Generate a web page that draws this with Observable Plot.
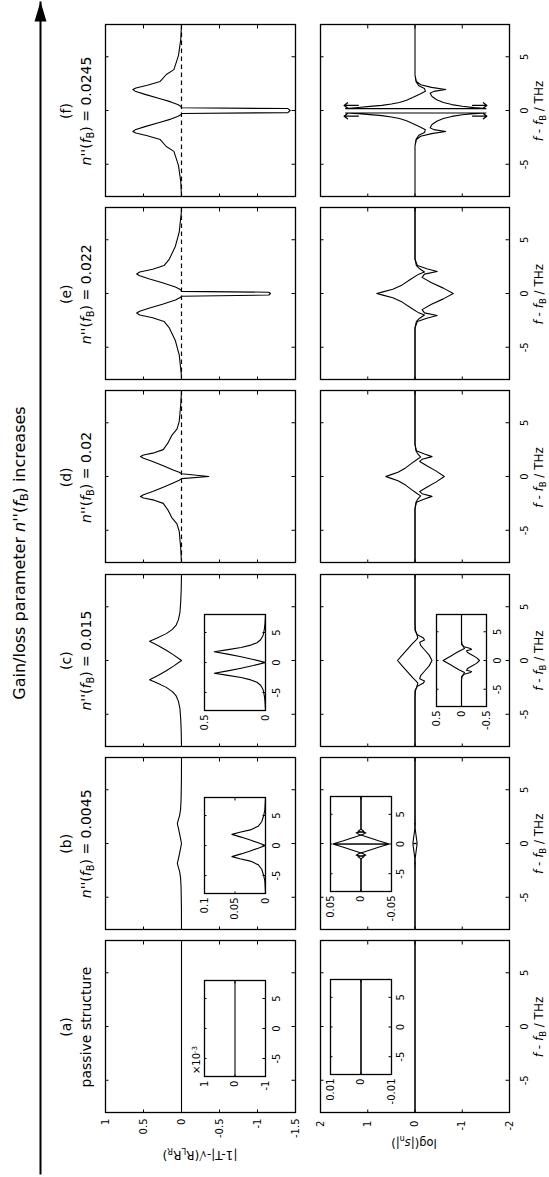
<!DOCTYPE html>
<html><head><meta charset="utf-8">
<script src="https://cdn.jsdelivr.net/npm/d3@7"></script>
<script src="https://cdn.jsdelivr.net/npm/@observablehq/plot@0.6"></script>
<style>
html,body{margin:0;padding:0;background:#fff;}
body{width:549px;height:1177px;overflow:hidden;position:relative;font-family:"DejaVu Sans",sans-serif;color:#000;}
#fig{position:absolute;left:0;top:0;width:1177px;height:549px;transform-origin:0 0;transform:translate(0px,1177px) rotate(-90deg);}
.lab{position:absolute;white-space:nowrap;transform:translate(-50%,-50%);line-height:1;}
sub{font-size:0.7em;vertical-align:-0.3em;line-height:0;}
sup{font-size:0.7em;vertical-align:0.5em;line-height:0;}
</style></head><body><div id="fig"></div>
<script>
// ---------- data ----------
const fDomain = [-8, 8];
const xTickVals = [-5, 0, 5];
const topTicks = [1, 0.5, 0, -0.5, -1, -1.5];
const botTicks = [2, 1, 0, -1, -2];
const panelLetters = ["(a)", "(b)", "(c)", "(d)", "(e)", "(f)"];
const panelParams = ["passive structure", "0.0045", "0.015", "0.02", "0.022", "0.0245"];
const insetTopA_ticks = [1, 0, -1];          // x 10^-3
const insetTopB_ticks = [0.1, 0.05, 0];
const insetTopC_ticks = [0.5, 0];
const insetBotA_ticks = [0.01, 0, -0.01];
const insetBotB_ticks = [0.05, 0, -0.05];
const insetBotC_ticks = [0.5, 0, -0.5];

// top row: |1-T| - sqrt(RL RR)
const topA = [[-8, 0], [8, 0]];
const topB = [[-8,0],[-6,0.001],[-5,0.003],[-4,0.006],[-3.2,0.012],[-2.6,0.025],[-2.2,0.042],[-1.85,0.055],[-1.4,0.04],[-0.9,0.025],[-0.45,0.012],[0,0],[0.45,0.012],[0.9,0.025],[1.4,0.04],[1.85,0.055],[2.2,0.042],[2.6,0.025],[3.2,0.012],[4,0.006],[5,0.003],[6,0.001],[8,0]];
const topC = [[-8,0],[-6.5,0.004],[-5.5,0.01],[-4.5,0.02],[-3.8,0.04],[-3.3,0.07],[-2.9,0.12],[-2.5,0.2],[-2.1,0.32],[-1.8,0.42],[-1.4,0.31],[-0.95,0.2],[-0.5,0.1],[0,0],[0.5,0.1],[0.95,0.2],[1.4,0.31],[1.8,0.42],[2.1,0.32],[2.5,0.2],[2.9,0.12],[3.3,0.07],[3.8,0.04],[4.5,0.02],[5.5,0.01],[6.5,0.004],[8,0]];
const topD = [[-8,0],[-6.7,0.01],[-5.1,0.03],[-4.4,0.06],[-3.8,0.13],[-3.1,0.18],[-2.5,0.24],[-2.2,0.36],[-2.0,0.5],[-1.86,0.54],[-1.7,0.5],[-1.4,0.38],[-1.0,0.24],[-0.6,0.11],[-0.35,0.03],[-0.2,0],[0,-0.36],[0.25,0],[0.4,0.03],[0.6,0.11],[1.0,0.24],[1.4,0.38],[1.7,0.5],[1.86,0.54],[2.0,0.5],[2.2,0.36],[2.5,0.24],[3.1,0.18],[3.8,0.13],[4.4,0.06],[5.1,0.03],[6.7,0.01],[8,0]];
const topE = [[-8,0],[-7.5,0.003],[-5.7,0.03],[-4.4,0.08],[-3.2,0.16],[-2.6,0.23],[-2.25,0.38],[-2.0,0.55],[-1.82,0.59],[-1.65,0.55],[-1.35,0.42],[-1.0,0.25],[-0.6,0.08],[-0.35,0.01],[-0.26,0],[-0.14,-1.15],[0,-1.17],[0.12,-1.15],[0.2,0],[0.35,0.01],[0.6,0.08],[1.0,0.25],[1.35,0.42],[1.65,0.55],[1.82,0.59],[2.0,0.55],[2.25,0.38],[2.6,0.23],[3.2,0.16],[4.4,0.08],[5.7,0.03],[7.5,0.003],[8,0]];
const topF = [[-8,0],[-6.6,0.01],[-5.1,0.04],[-3.8,0.1],[-3.35,0.2],[-2.7,0.28],[-2.35,0.45],[-2.1,0.6],[-1.95,0.64],[-1.8,0.61],[-1.5,0.48],[-1.1,0.28],[-0.8,0.14],[-0.55,0.05],[-0.4,0.01],[-0.28,0],[-0.2,-1.4],[0,-1.43],[0.18,-1.4],[0.25,0],[0.4,0.01],[0.55,0.05],[0.8,0.14],[1.1,0.28],[1.5,0.48],[1.8,0.61],[1.95,0.64],[2.1,0.6],[2.35,0.45],[2.7,0.28],[3.35,0.2],[3.8,0.1],[5.1,0.04],[6.6,0.01],[8,0]];

// bottom row: log(|s_n|), two branches per panel
const botA1 = [[-8, 0], [8, 0]];
const botA2 = [[-8, 0], [8, 0]];
const botB1 = [[-8,0],[-2.5,0],[-2.1,0.005],[-1.9,-0.008],[-1.6,-0.003],[-1,0.015],[-0.5,0.03],[-0.05,0.045],[0.05,-0.045],[0.5,-0.03],[1,-0.015],[1.6,0.003],[1.9,0.008],[2.1,-0.005],[2.5,0],[8,0]];
const botB2 = [[-8,0],[-2.5,0],[-2.1,-0.005],[-1.9,0.008],[-1.6,0.003],[-1,-0.015],[-0.5,-0.03],[-0.05,-0.045],[0.05,0.045],[0.5,0.03],[1,0.015],[1.6,-0.003],[1.9,-0.008],[2.1,0.005],[2.5,0],[8,0]];
const botC1 = [[-8,0],[-3.5,0],[-2.8,-0.01],[-2.4,-0.04],[-2.1,-0.06],[-1.9,-0.02],[-1.6,0.05],[-1.2,0.13],[-0.8,0.21],[-0.4,0.29],[0,0.37],[0.4,0.29],[0.8,0.21],[1.2,0.13],[1.6,0.05],[1.9,-0.02],[2.1,-0.06],[2.4,-0.04],[2.8,-0.01],[3.5,0],[8,0]];
const botC2 = [[-8,0],[-3.5,0],[-2.8,0],[-2.4,-0.05],[-2.1,-0.18],[-1.9,-0.2],[-1.7,-0.1],[-1.4,-0.12],[-1,-0.2],[-0.5,-0.3],[0,-0.36],[0.5,-0.3],[1,-0.2],[1.4,-0.12],[1.7,-0.1],[1.9,-0.2],[2.1,-0.18],[2.4,-0.05],[2.8,0],[3.5,0],[8,0]];
const botD1 = [[-8,0],[-3,0],[-2.4,-0.02],[-2.1,-0.06],[-1.8,-0.12],[-1.6,-0.05],[-1.2,0.08],[-0.8,0.2],[-0.4,0.36],[-0.15,0.52],[0,0.62],[0.15,0.52],[0.4,0.36],[0.8,0.2],[1.2,0.08],[1.6,-0.05],[1.8,-0.12],[2.1,-0.06],[2.4,-0.02],[3,0],[8,0]];
const botD2 = [[-8,0],[-3,0],[-2.4,-0.03],[-2.1,-0.2],[-1.85,-0.36],[-1.6,-0.15],[-1.4,-0.1],[-1,-0.25],[-0.5,-0.45],[0,-0.62],[0.5,-0.45],[1,-0.25],[1.4,-0.1],[1.6,-0.15],[1.85,-0.36],[2.1,-0.2],[2.4,-0.03],[3,0],[8,0]];
const botE1 = [[-8,0],[-3.2,0],[-2.6,-0.03],[-2.3,-0.1],[-2.0,-0.2],[-1.8,-0.08],[-1.3,0.1],[-0.8,0.27],[-0.4,0.47],[-0.15,0.68],[0,0.81],[0.15,0.68],[0.4,0.47],[0.8,0.27],[1.3,0.1],[1.8,-0.08],[2.0,-0.2],[2.3,-0.1],[2.6,-0.03],[3.2,0],[8,0]];
const botE2 = [[-8,0],[-3.2,0],[-2.6,-0.05],[-2.3,-0.25],[-2.05,-0.47],[-1.8,-0.2],[-1.5,-0.15],[-1,-0.35],[-0.5,-0.6],[0,-0.81],[0.5,-0.6],[1,-0.35],[1.5,-0.15],[1.8,-0.2],[2.05,-0.47],[2.3,-0.25],[2.6,-0.05],[3.2,0],[8,0]];
// panel (f): left and right halves of the two branches, which run off the axis near f = 0
const botF1 = [[-8,0],[-3.3,0],[-2.7,-0.02],[-2.3,-0.08],[-2.05,-0.2],[-1.8,-0.22],[-1.55,-0.12],[-1.2,0.05],[-0.95,0.18],[-0.75,0.33],[-0.6,0.5],[-0.48,0.7],[-0.38,0.95],[-0.3,1.2],[-0.23,1.47],[-0.23,-1.5],[-0.3,-1.25],[-0.4,-1.0],[-0.55,-0.78],[-0.75,-0.6],[-1.0,-0.46],[-1.3,-0.36],[-1.6,-0.32],[-1.78,-0.4],[-1.95,-0.65],[-2.15,-0.35],[-2.4,-0.12],[-2.7,-0.03],[-3.3,0]];
const botF2 = [[8,0],[3.3,0],[2.7,-0.02],[2.3,-0.08],[2.05,-0.2],[1.8,-0.22],[1.55,-0.12],[1.2,0.05],[0.95,0.18],[0.75,0.33],[0.6,0.5],[0.48,0.7],[0.38,0.95],[0.28,1.2],[0.17,1.47],[0.17,-1.5],[0.27,-1.25],[0.4,-1.0],[0.55,-0.78],[0.75,-0.6],[1.0,-0.46],[1.3,-0.36],[1.6,-0.32],[1.78,-0.4],[1.95,-0.65],[2.15,-0.35],[2.4,-0.12],[2.7,-0.03],[3.3,0]];
const botF_arrows = [{f: 0.47, from: 1.2, to: 1.5}, {f: -0.53, from: 1.2, to: 1.5}, {f: 0.47, from: -1.22, to: -1.52}, {f: -0.53, from: -1.22, to: -1.52}];
const progressArrow = [{from: 0, to: 1}];

// ---------- layout ----------
const fig = document.getElementById("fig");
const colU = [64, 247.2, 430.4, 613.6, 796.8, 980];
const PW = 172;
const TOP = {V: 105, h: 190, dom: [-1.5, 1]};
const BOT = {V: 320, h: 189, dom: [-2, 2]};
const FONT = "DejaVu Sans";

function addLabel(html, U, V, size, extra) {
  const d = document.createElement("div");
  d.className = "lab";
  d.innerHTML = html;
  d.style.left = U + "px"; d.style.top = V + "px";
  d.style.fontSize = size + "px";
  if (extra) Object.assign(d.style, extra);
  fig.appendChild(d);
  return d;
}

function panel(o) {
  const mL = 40, mR = 6, mT = 6, mB = 30, tl = o.tl ?? 3.5;
  const marks = [];
  marks.push(Plot.frame({stroke: "#000", strokeWidth: 1.3}));
  marks.push(Plot.tickX(xTickVals, {x: d => d, insetTop: o.h - tl, stroke: "#000"}));
  marks.push(Plot.tickX(xTickVals, {x: d => d, insetBottom: o.h - tl, stroke: "#000"}));
  marks.push(Plot.tickY(o.yTicks, {y: d => d, insetRight: o.w - tl, stroke: "#000"}));
  marks.push(Plot.tickY(o.yTicks, {y: d => d, insetLeft: o.w - tl, stroke: "#000"}));
  if (o.dash) marks.push(Plot.ruleY([0], {stroke: "#000", strokeDasharray: "4.5,3.5", strokeWidth: 1.2}));
  for (const c of o.curves) marks.push(Plot.line(c, {x: d => d[0], y: d => d[1], stroke: "#000", strokeWidth: 1.1, clip: true}));
  if (o.arrows) marks.push(Plot.arrow(o.arrows, {x1: d => d.f, x2: d => d.f, y1: d => d.from, y2: d => d.to, stroke: "#000", strokeWidth: 1.3, headLength: 5, headAngle: 75}));
  if (o.showX) marks.push(Plot.axisX(xTickVals, {tickSize: 0, tickPadding: o.xPad, label: null, tickFormat: d => String(d), fontSize: 10}));
  if (o.showY) marks.push(Plot.axisY(o.yTicks, {tickSize: 0, tickPadding: o.yPad, label: null, tickFormat: o.yFmt || (d => String(d)), fontSize: 10}));
  const svg = Plot.plot({
    width: o.w + mL + mR, height: o.h + mT + mB,
    marginLeft: mL, marginRight: mR, marginTop: mT, marginBottom: mB,
    x: {domain: fDomain, axis: null},
    y: {domain: o.dom, axis: null},
    style: {background: "transparent", overflow: "visible", fontFamily: FONT, fontSize: "10px", maxWidth: "none"},
    marks
  });
  svg.style.position = "absolute";
  svg.style.left = (o.U - mL) + "px";
  svg.style.top = (o.V - mT) + "px";
  fig.appendChild(svg);
}

const topCurves = [[topA], [topB], [topC], [topD], [topE], [topF]];
const botCurves = [[botA1, botA2], [botB1, botB2], [botC1, botC2], [botD1, botD2], [botE1, botE2], [botF1, botF2]];

for (let i = 0; i < 6; i++) {
  panel({U: colU[i], V: TOP.V, w: PW, h: TOP.h, dom: TOP.dom, yTicks: topTicks, curves: topCurves[i], dash: i >= 3, showY: i === 0, yPad: 6});
  panel({U: colU[i], V: BOT.V, w: PW, h: BOT.h, dom: BOT.dom, yTicks: botTicks, curves: botCurves[i], showY: i === 0, yPad: 8, showX: true, xPad: 11, arrows: i === 5 ? botF_arrows : null});
  const cu = colU[i] + PW / 2;
  addLabel(panelLetters[i], cu, 66, 14);
  if (i === 0) addLabel(panelParams[0], cu, 86, 14);
  else addLabel(`<i>n</i>''(<i>f</i><sub>B</sub>) = ${panelParams[i]}`, cu, 86, 14);
  addLabel(`<i>f</i> - <i>f</i><sub>B</sub> / THz`, cu, 539, 12);
}

// insets
const insTopY = 204, insTopH = 61;
panel({U: colU[0] + 36, V: insTopY, w: 96, h: insTopH, dom: [-1, 1], yTicks: insetTopA_ticks, curves: [[[-8, 0], [8, 0]]], showX: true, xPad: 7, showY: true, yPad: 4, tl: 2.5});
panel({U: colU[1] + 36, V: insTopY, w: 96, h: insTopH, dom: [0, 0.1], yTicks: insetTopB_ticks, curves: [topB], showX: true, xPad: 7, showY: true, yPad: 4, tl: 2.5});
panel({U: colU[2] + 36, V: insTopY, w: 96, h: insTopH, dom: [0, 0.5], yTicks: insetTopC_ticks, curves: [topC], showX: true, xPad: 7, showY: true, yPad: 4, tl: 2.5});
panel({U: colU[0] + 38, V: 330, w: 95, h: 61, dom: [-0.01, 0.01], yTicks: insetBotA_ticks, curves: [botA1, botA2], showX: true, xPad: 5, showY: true, yPad: 4, tl: 2.5});
panel({U: colU[1] + 38, V: 330, w: 95, h: 61, dom: [-0.05, 0.05], yTicks: insetBotB_ticks, curves: [botB1, botB2], showX: true, xPad: 5, showY: true, yPad: 4, tl: 2.5});
panel({U: colU[2] + 40, V: 436, w: 92, h: 50, dom: [-0.5, 0.5], yTicks: insetBotC_ticks, curves: [botC1, botC2], showX: true, xPad: 7, showY: true, yPad: 4, tl: 2.5});
addLabel("×10<sup>-3</sup>", colU[0] + 53, 197, 10);

// axis labels
addLabel("|1-T|-√(R<sub>L</sub>R<sub>R</sub>)", 22, 200, 12, {transform: "translate(-50%,-50%) rotate(-90deg)"});
addLabel("log(|<i>s</i><sub>n</sub>|)", 35, 414, 11.5, {transform: "translate(-50%,-50%) rotate(-90deg)"});

// title and progress arrow
addLabel(`Gain/loss parameter <i>n</i>''(<i>f</i><sub>B</sub>) increases`, 624, 20, 16);
{
  const svg = Plot.plot({
    width: 1177, height: 30, margin: 0, marginLeft: 2, marginRight: 2,
    x: {domain: [0, 1], axis: null}, y: {domain: [0, 1], axis: null},
    style: {background: "transparent", overflow: "visible"},
    marks: [
      Plot.link(progressArrow, {x1: d => d.from, x2: d => d.to, y1: 0.5, y2: 0.5, stroke: "#000", strokeWidth: 2}),
      Plot.vector(progressArrow, {x: d => d.to, y: 0.5, length: 20, rotate: 90, shape: "spike", r: 6, anchor: "end", fill: "#000", stroke: "none"})
    ]
  });
  svg.style.position = "absolute"; svg.style.left = "0px"; svg.style.top = "25px";
  fig.appendChild(svg);
}
</script></body></html>
